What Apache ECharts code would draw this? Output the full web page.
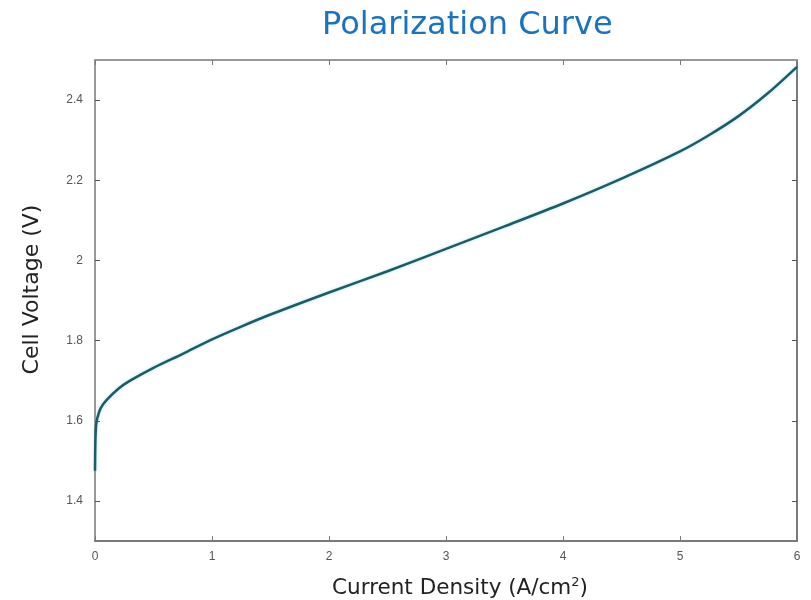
<!DOCTYPE html>
<html>
<head>
<meta charset="utf-8">
<script src="https://cdn.jsdelivr.net/npm/echarts@6/dist/echarts.min.js"></script>
<style>
  html, body { margin: 0; padding: 0; background: #fff; }
  #chart { width: 811px; height: 600px; }
</style>
</head>
<body>
<div id="chart"></div>
<script>
// Polarization curve: current density (A/cm²) vs. cell voltage (V)
const currentDensity = [0, 0.002, 0.005, 0.01, 0.02, 0.05, 0.1, 0.2, 0.3, 0.5, 0.75, 1, 1.25, 1.5, 2, 2.5, 3, 3.5, 4, 4.5, 5, 5.25, 5.5, 5.75, 6];
const cellVoltage    = [1.475, 1.53, 1.565, 1.59, 1.607, 1.632, 1.652, 1.68, 1.70, 1.732, 1.767, 1.803, 1.835, 1.865, 1.92, 1.973, 2.029, 2.085, 2.142, 2.204, 2.272, 2.313, 2.36, 2.417, 2.483];
const xTicks = [0, 1, 2, 3, 4, 5, 6];
const yTicks = [1.4, 1.6, 1.8, 2, 2.2, 2.4];

const points = currentDensity.map((x, i) => [x, cellVoltage[i]]);

const axisColor = '#7a7a7a';
const mirrorColor = '#999999';
const nameFont = 'DejaVu Sans, Verdana, sans-serif';
const labelStyle = { color: '#555', fontFamily: 'Liberation Sans, Arial, sans-serif', fontSize: 12 };

const chart = echarts.init(document.getElementById('chart'), null, { renderer: 'canvas' });
chart.setOption({
  animation: false,
  backgroundColor: '#ffffff',
  title: {
    text: 'Polarization Curve',
    left: 317,
    top: 5,
    textStyle: { color: '#1a73c1', fontFamily: nameFont, fontSize: 32, fontWeight: 'normal' }
  },
  grid: { left: 95, right: 14, top: 60, bottom: 59, outerBoundsMode: 'none' },
  xAxis: [
    {
      type: 'value', min: 0, max: 6, interval: 1, position: 'bottom',
      name: '{n|Current Density (A/cm}{s|2}{n|)}',
      nameLocation: 'middle', nameGap: 35,
      nameTextStyle: {
        padding: [0, 0, 0, 28],
        rich: {
          n: { fontFamily: nameFont, fontSize: 21.5, color: '#222' },
          s: { fontFamily: nameFont, fontSize: 13, color: '#222', verticalAlign: 'top', padding: [0, 0, 12, 0] }
        }
      },
      axisLine: { show: true, onZero: false, lineStyle: { color: axisColor, width: 2 } },
      axisTick: { show: true, inside: true, length: 5, lineStyle: { color: axisColor, width: 1 } },
      axisLabel: Object.assign({ margin: 10, customValues: xTicks }, labelStyle),
      splitLine: { show: false }
    },
    {
      type: 'value', min: 0, max: 6, interval: 1, position: 'top',
      axisLine: { show: true, onZero: false, lineStyle: { color: mirrorColor, width: 2 } },
      axisTick: { show: true, inside: true, length: 5, lineStyle: { color: axisColor, width: 1 } },
      axisLabel: { show: false },
      splitLine: { show: false }
    }
  ],
  yAxis: [
    {
      type: 'value', min: 1.3, max: 2.5, position: 'left',
      name: 'Cell Voltage (V)',
      nameLocation: 'middle', nameGap: 52,
      nameTextStyle: { fontFamily: nameFont, fontSize: 22, color: '#222', padding: [0, 0, 0, 22] },
      axisLine: { show: true, onZero: false, lineStyle: { color: mirrorColor, width: 2 } },
      axisTick: { show: true, inside: true, length: 5, customValues: yTicks, lineStyle: { color: '#555', width: 1 } },
      axisLabel: Object.assign({ margin: 12, customValues: yTicks }, labelStyle),
      splitLine: { show: false }
    },
    {
      type: 'value', min: 1.3, max: 2.5, position: 'right',
      axisLine: { show: true, onZero: false, lineStyle: { color: axisColor, width: 2 } },
      axisTick: { show: true, inside: true, length: 5, customValues: yTicks, lineStyle: { color: '#555', width: 1 } },
      axisLabel: { show: false },
      splitLine: { show: false }
    }
  ],
  series: [
    {
      type: 'line',
      data: points,
      xAxisIndex: 0,
      yAxisIndex: 0,
      smooth: 0.3,
      showSymbol: false,
      lineStyle: { color: '#1d5c66', width: 2.5, shadowColor: 'rgba(80,200,220,0.5)', shadowBlur: 3 }
    }
  ]
});
</script>
</body>
</html>
